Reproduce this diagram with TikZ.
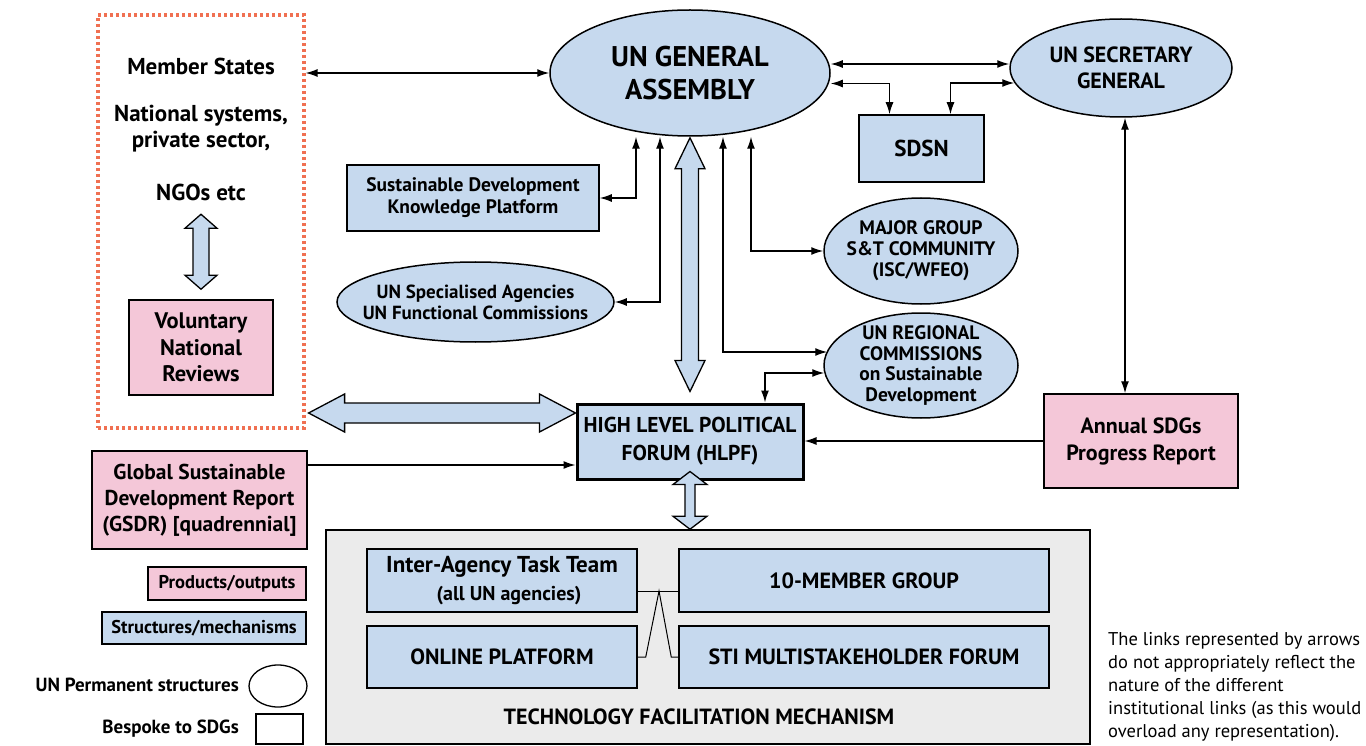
\documentclass[tikz,border=0pt]{standalone}
\usepackage{fontspec}
\setmainfont{PT Sans}
\usetikzlibrary{arrows.meta,shapes.geometric,calc}
\definecolor{ublue}{RGB}{198,217,238}
\definecolor{upink}{RGB}{244,199,216}
\definecolor{ugray}{RGB}{235,235,235}
\definecolor{uorange}{RGB}{240,112,82}
\newcommand\fsz[2]{\fontsize{#1}{#2}\selectfont\bfseries}
\newcommand\vblock[5]{%
\draw[blk] ($(#1)+(-#3,#5)$) -- ($(#1)+(-#4,#5)$) -- (#1) -- ($(#1)+(#4,#5)$) -- ($(#1)+(#3,#5)$) -- ($(#2)+(#3,-#5)$) -- ($(#2)+(#4,-#5)$) -- (#2) -- ($(#2)+(-#4,-#5)$) -- ($(#2)+(-#3,-#5)$) -- cycle;}
\newcommand\hblock[5]{%
\draw[blk] ($(#1)+(#5,-#3)$) -- ($(#1)+(#5,-#4)$) -- (#1) -- ($(#1)+(#5,#4)$) -- ($(#1)+(#5,#3)$) -- ($(#2)+(-#5,#3)$) -- ($(#2)+(-#5,#4)$) -- (#2) -- ($(#2)+(-#5,-#4)$) -- ($(#2)+(-#5,-#3)$) -- cycle;}
\begin{document}
\begin{tikzpicture}[x=1pt,y=-1pt,
 box/.style={draw,line width=1.5pt,fill=ublue,inner sep=0pt,align=center},
 pbox/.style={box,fill=upink},
 ell/.style={ellipse,draw,line width=1.5pt,fill=ublue,inner sep=0pt},
 lab/.style={inner sep=0pt,align=center},
 dar/.style={line width=1.3pt,{Latex[length=12pt,width=8pt]}-{Latex[length=12pt,width=8pt]}},
 ar/.style={line width=1.3pt,-{Latex[length=12pt,width=8pt]}},
 blk/.style={draw,line width=1.3pt,fill=ublue,line join=miter},
]
\useasboundingbox (0,0) rectangle (1366,746);

% Member states dotted region
\node[draw=uorange,line width=3.2pt,dash pattern=on 2.8pt off 3.2pt,minimum width=206pt,minimum height=413pt,inner sep=0pt] (ms) at (201,221.5) {};
\node[lab,font=\fsz{23}{26}] (mst) at (201,66) {Member States};
\node[lab,font=\fsz{23}{26}] (nat) at (201,129) {National systems,\\private sector,};
\node[lab,font=\fsz{23}{26}] (ngo) at (201,192) {NGOs etc};
\node[pbox,minimum width=144pt,minimum height=95pt,font=\fsz{22.5}{26.5}] (vnr) at (201,347.5) {Voluntary\\National\\Reviews};

% main nodes
\node[ell,minimum width=280pt,minimum height=126pt,label={[lab,font=\fsz{28.5}{33}]center:{UN GENERAL\\ASSEMBLY}}] (ga) at (690,73) {};
\node[ell,minimum width=222pt,minimum height=98pt,label={[lab,font=\fsz{22}{26}]center:{UN SECRETARY\\GENERAL}}] (sg) at (1121,68) {};
\node[box,minimum width=125pt,minimum height=67pt,font=\fsz{23}{26}] (sdsn) at (921.5,148.5) {SDSN};
\node[box,minimum width=252pt,minimum height=66pt,font=\fsz{19.5}{22}] (sdkp) at (473,198) {Sustainable Development\\Knowledge Platform};
\node[ell,minimum width=277pt,minimum height=80pt,label={[lab,font=\fsz{19}{21}]center:{UN Specialised Agencies\\UN Functional Commissions}}] (unsa) at (475.5,302) {};
\node[ell,minimum width=194pt,minimum height=106pt,label={[lab,font=\fsz{19.5}{21}]center:{MAJOR GROUP\\S\&T COMMUNITY\\(ISC/WFEO)}}] (mg) at (921,251) {};
\node[ell,minimum width=194pt,minimum height=105pt,label={[lab,font=\fsz{19.5}{20.7}]center:{UN REGIONAL\\COMMISSIONS\\on Sustainable\\Development}}] (reg) at (921,365.5) {};
\node[box,line width=3pt,minimum width=226pt,minimum height=75pt,font=\fsz{21.5}{28}] (hlpf) at (690,441.5) {HIGH LEVEL POLITICAL\\FORUM (HLPF)};
\node[pbox,minimum width=194pt,minimum height=94pt,font=\fsz{22}{27}] (annual) at (1141,441) {Annual SDGs\\Progress Report};
\node[pbox,minimum width=215pt,minimum height=98pt,font=\fsz{21.5}{26}] (gsdr) at (199.5,500) {Global Sustainable\\Development Report\\(GSDR) [quadrennial]};

% TFM
\node[draw,line width=1.5pt,fill=ugray,minimum width=764pt,minimum height=214pt,inner sep=0pt] (tfm) at (708,637) {};
\node[box,minimum width=270pt,minimum height=63pt] (iatt) at (502,580.5) {};
\node[lab,font=\fsz{23}{26}] (iattt) at (502,567) {Inter-Agency Task Team};
\node[lab,font=\fsz{20}{22}] (iatts) at (509,596) {(all UN agencies)};
\node[box,minimum width=370pt,minimum height=63pt,font=\fsz{22}{24}] (ten) at (864,580.5) {10-MEMBER GROUP};
\node[box,minimum width=270pt,minimum height=62pt,font=\fsz{22}{24}] (op) at (502,657) {ONLINE PLATFORM};
\node[box,minimum width=370pt,minimum height=62pt,font=\fsz{22}{24}] (sti) at (864,657) {STI MULTISTAKEHOLDER FORUM};
\node[lab,font=\fsz{22}{24}] (tfmt) at (699,717) {TECHNOLOGY FACILITATION MECHANISM};
\coordinate (j) at ([yshift=-10.5pt]iatt.east);
\coordinate (apex) at ($(j)!0.525!(j -| ten.west)$);
\draw[line width=1pt] (j) -- (j -| ten.west);
\draw[line width=1pt] (op.east) -- ++(8,0) -- (apex) -- ($(sti.west)+(-7,0)$) -- (sti.west);

% legend
\node[pbox,line width=1.3pt,minimum width=158pt,minimum height=33pt,font=\fsz{18.5}{20}] (prod) at (227,583.5) {Products/outputs};
\node[box,line width=1.3pt,minimum width=204pt,minimum height=32pt,font=\fsz{18.5}{20}] (struc) at (204,628) {Structures/mechanisms};
\node[lab,anchor=east,font=\fsz{19}{20}] (perm) at (239,685) {UN Permanent structures};
\node[ell,line width=1.3pt,fill=white,minimum width=58pt,minimum height=42pt] (perme) at (278,686) {};
\node[lab,anchor=east,font=\fsz{19}{20}] (besp) at (239,729) {Bespoke to SDGs};
\node[box,line width=1.3pt,fill=white,minimum width=47pt,minimum height=30pt] (bespr) at (279.5,729) {};

% note
\node[lab,align=left,anchor=north west,font=\fontsize{18.5}{23}\selectfont] (note) at (1108,632) {The links represented by arrows\\do not appropriately reflect the\\nature of the different\\institutional links (as this would\\overload any representation).};

% connectors
\draw[dar] (ms.east |- ga.west) -- (ga.west);
\coordinate (g1) at ([yshift=9pt]ga.east);
\draw[dar] (g1) -- (g1 -| sg.west);
\draw[dar] ([yshift=-10.5pt]ga.east) -| ([xshift=-32pt]sdsn.north);
\coordinate (s1) at ([xshift=5pt,yshift=-15pt]sg.west);
\draw[dar] (s1) -| ([xshift=29pt]sdsn.north);
\draw[dar] (sdkp.east) -| ([xshift=-54pt]ga.south);
\draw[dar] (unsa.east) -| ([xshift=-30pt]ga.south);
\draw[dar] ([xshift=61pt]ga.south) |- (mg.west);
\coordinate (r1) at ([xshift=4pt,yshift=13.5pt]reg.west);
\draw[dar] ([xshift=33pt]ga.south) |- (r1);
\coordinate (r2) at ([xshift=1pt,yshift=-7.5pt]reg.west);
\draw[dar] (r2) -| ([xshift=75pt]hlpf.north);
\coordinate (a1) at ([xshift=4pt]sg.south);
\draw[dar] (a1) -- (a1 |- annual.north);
\draw[ar] (annual.west) -- (annual.west -| hlpf.east);
\coordinate (gin) at ([yshift=-23.5pt]hlpf.west);
\draw[ar] (gin -| gsdr.east) -- (gin);

% block arrows
\coordinate (gaT) at ([yshift=-1pt]ga.south);
\coordinate (hlT) at ([yshift=11pt]hlpf.north);
\vblock{gaT}{hlT}{8.5}{15}{31}
\coordinate (msT) at ([yshift=85pt]vnr.north);
\coordinate (msB) at ([yshift=10pt]vnr.north);
\vblock{msT}{msB}{8}{16}{14}
\coordinate (hR) at ([yshift=28.5pt]hlpf.west);
\coordinate (hL) at ($(ms.east |- hR)+(3,0)$);
\hblock{hL}{hR}{10}{19}{36}
\coordinate (tT) at ([yshift=9pt]hlpf.south);
\coordinate (tB) at (hlpf.south |- tfm.north);
\vblock{tT}{tB}{5}{17}{13}
\end{tikzpicture}
\end{document}
